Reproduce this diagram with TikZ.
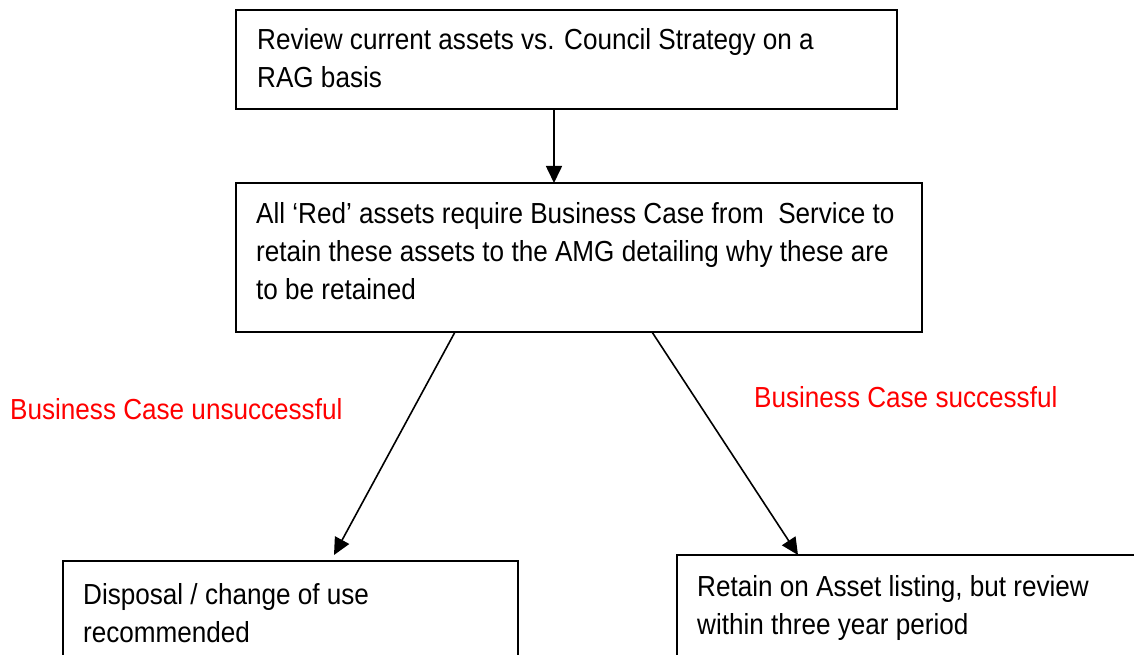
\documentclass[tikz,border=0pt]{standalone}
\usepackage{fontspec}
\setmainfont{Liberation Sans}[FakeStretch=0.90]
\usetikzlibrary{arrows.meta,calc}
\begin{document}
\begin{tikzpicture}[x=1pt,y=-1pt,
  box/.style={draw=black,line width=1.6pt,inner sep=0pt,outer sep=0pt,anchor=north west},
  txt/.style={font=\fontsize{29pt}{38pt}\selectfont,align=left,inner sep=0pt,anchor=north west},
  lbl/.style={font=\fontsize{29pt}{38pt}\selectfont,text=red,inner sep=0pt,anchor=base west},
  arr/.style={line width=1.6pt,-{Triangle[length=17pt,width=16pt]}}]
\useasboundingbox (0,0) rectangle (1134,655);
\node[box,minimum width=661pt,minimum height=99pt] (b1) at (236,10) {};
\node[box,minimum width=686pt,minimum height=149pt] (b2) at (236,183) {};
\node[box,minimum width=455pt,minimum height=140pt] (b3) at (63,561) {};
\node[box,minimum width=470pt,minimum height=140pt] (b4) at (677,555) {};
\node[txt] (t1) at (257,28) {Review current assets vs. Council Strategy on a\\RAG basis};
\node[txt] (t2) at (256,202) {All ‘Red’ assets require Business Case from\ \ Service to\\retain these assets to the AMG detailing why these are\\to be retained};
\node[txt] (t3) at (83,583) {Disposal / change of use\\recommended};
\node[txt] (t4) at (697,575) {Retain on Asset listing, but review\\within three year period};
\node[lbl] (l1) at (10,419) {Business Case unsuccessful};
\node[lbl] (l2) at (754,407) {Business Case successful};
\draw[arr] ($(b1.south west)+(318,0)$) -- ($(b2.north west)+(318,0)$);
\draw[arr] ($(b2.south west)+(219,0)$) -- ($(b3.north west)+(271,-6)$);
\draw[arr] ($(b2.south west)+(416,0)$) -- ($(b4.north west)+(121,0)$);
\end{tikzpicture}
\end{document}
